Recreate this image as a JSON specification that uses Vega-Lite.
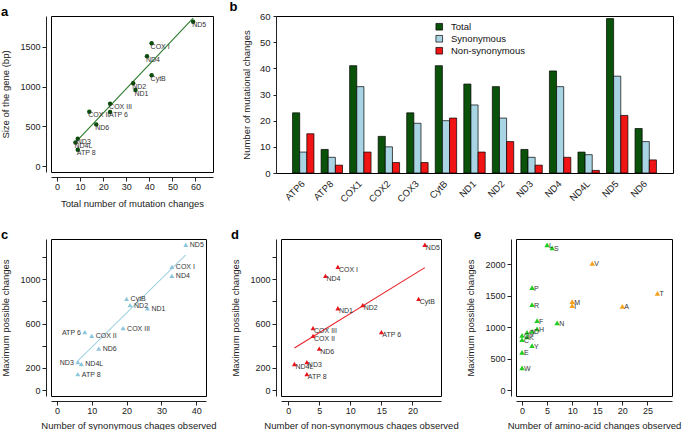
{
  "$schema": "https://vega.github.io/schema/vega-lite/v6.json",
  "background": "white",
  "padding": {"left": 0, "top": 0, "right": 2, "bottom": 0},
  "config": {
    "font": "Liberation Sans",
    "view": {"stroke": "black", "strokeWidth": 1},
    "axis": {"grid": false, "labelFontSize": 9, "titleFontSize": 9.5, "titleFontWeight": "normal", "labelColor": "#222", "titleColor": "#222", "domainColor": "#222", "tickColor": "#222", "tickSize": 4, "labelPadding": 2, "offset": 5, "labelFlush": false, "labelOverlap": false},
    "title": {"fontSize": 13, "fontWeight": "bold", "anchor": "start", "frame": "bounds", "offset": -3, "color": "black"},
    "text": {"font": "Liberation Sans"}
  },
  "datasets": {
    "genes": [
      {"gene": "ATP6", "label": "ATP 6", "Total": 23, "Synonymous": 8, "Non-synonymous": 15, "size": 681, "maxpos": 522},
      {"gene": "ATP8", "label": "ATP 8", "Total": 9, "Synonymous": 6, "Non-synonymous": 3, "size": 207, "maxpos": 144},
      {"gene": "COX1", "label": "COX I", "Total": 41, "Synonymous": 33, "Non-synonymous": 8, "size": 1542, "maxpos": 1110},
      {"gene": "COX2", "label": "COX II", "Total": 14, "Synonymous": 10, "Non-synonymous": 4, "size": 684, "maxpos": 489},
      {"gene": "COX3", "label": "COX III", "Total": 23, "Synonymous": 19, "Non-synonymous": 4, "size": 784, "maxpos": 558},
      {"gene": "CytB", "label": "CytB", "Total": 41, "Synonymous": 20, "Non-synonymous": 21, "size": 1141, "maxpos": 822},
      {"gene": "ND1", "label": "ND1", "Total": 34, "Synonymous": 26, "Non-synonymous": 8, "size": 956, "maxpos": 737},
      {"gene": "ND2", "label": "ND2", "Total": 33, "Synonymous": 21, "Non-synonymous": 12, "size": 1042, "maxpos": 765},
      {"gene": "ND3", "label": "ND3", "Total": 9, "Synonymous": 6, "Non-synonymous": 3, "size": 346, "maxpos": 252},
      {"gene": "ND4", "label": "ND4", "Total": 39, "Synonymous": 33, "Non-synonymous": 6, "size": 1378, "maxpos": 1029},
      {"gene": "ND4L", "label": "ND4L", "Total": 8, "Synonymous": 7, "Non-synonymous": 1, "size": 297, "maxpos": 236},
      {"gene": "ND5", "label": "ND5", "Total": 59, "Synonymous": 37, "Non-synonymous": 22, "size": 1812, "maxpos": 1308},
      {"gene": "ND6", "label": "ND6", "Total": 17, "Synonymous": 12, "Non-synonymous": 5, "size": 525, "maxpos": 374}
    ],
    "aa": [
      {"aa": "L", "changes": 5, "maxpos": 2306, "group": "few"},
      {"aa": "S", "changes": 6, "maxpos": 2259, "group": "few"},
      {"aa": "P", "changes": 2, "maxpos": 1625, "group": "few"},
      {"aa": "R", "changes": 2, "maxpos": 1356, "group": "few"},
      {"aa": "F", "changes": 3, "maxpos": 1103, "group": "few"},
      {"aa": "N", "changes": 7, "maxpos": 1066, "group": "few"},
      {"aa": "H", "changes": 3, "maxpos": 971, "group": "few"},
      {"aa": "D", "changes": 2, "maxpos": 934, "group": "few"},
      {"aa": "Q", "changes": 1, "maxpos": 918, "group": "few"},
      {"aa": "G", "changes": 0, "maxpos": 871, "group": "few"},
      {"aa": "K", "changes": 1, "maxpos": 844, "group": "few"},
      {"aa": "C", "changes": 0, "maxpos": 802, "group": "few"},
      {"aa": "Y", "changes": 2, "maxpos": 707, "group": "few"},
      {"aa": "E", "changes": 0, "maxpos": 601, "group": "few"},
      {"aa": "W", "changes": 0, "maxpos": 354, "group": "few"},
      {"aa": "V", "changes": 14, "maxpos": 2010, "group": "many"},
      {"aa": "M", "changes": 10, "maxpos": 1405, "group": "many"},
      {"aa": "I", "changes": 10, "maxpos": 1340, "group": "many"},
      {"aa": "A", "changes": 20, "maxpos": 1330, "group": "many"},
      {"aa": "T", "changes": 27, "maxpos": 1535, "group": "many"}
    ]
  },
  "spacing": 20,
  "vconcat": [
    {
      "bounds": "flush",
      "spacing": 63,
      "hconcat": [
        {
          "title": {"text": "a"},
          "width": 162,
          "height": 156,
          "data": {"name": "genes"},
          "encoding": {
            "x": {"field": "Total", "type": "quantitative", "scale": {"domain": [-2.6, 67.6], "nice": false, "zero": false}, "axis": {"values": [0, 10, 20, 30, 40, 50, 60], "title": "Total number of mutation changes", "labelPadding": 1, "titlePadding": 7}},
            "y": {"field": "size", "type": "quantitative", "scale": {"domain": [-72, 1884], "nice": false, "zero": false}, "axis": {"values": [0, 500, 1000, 1500], "format": "d", "title": "Size of the gene (bp)", "titlePadding": 9}}
          },
          "layer": [
            {"transform": [{"regression": "size", "on": "Total"}], "mark": {"type": "line", "color": "#2b7a2b", "strokeWidth": 1.1}},
            {"mark": {"type": "circle", "color": "#0c4d0c", "opacity": 1, "size": 20}},
            {"mark": {"type": "text", "align": "left", "baseline": "middle", "dx": -1, "dy": 3.5, "fontSize": 7, "color": "#333"}, "encoding": {"text": {"field": "label"}}},
            {"data": {"values": [{"t": "r² = 0.9367"}]}, "mark": {"type": "text", "align": "right", "baseline": "middle", "fontSize": 10, "color": "#222"}, "encoding": {"x": {"datum": 58.5, "type": "quantitative"}, "y": {"datum": 0, "type": "quantitative"}, "text": {"field": "t"}}}
          ]
        },
        {
          "title": {"text": "b", "dx": -12},
          "width": 397,
          "height": 157,
          "data": {"name": "genes"},
          "transform": [{"fold": ["Total", "Synonymous", "Non-synonymous"], "as": ["type", "count"]}],
          "mark": {"type": "bar", "stroke": "black", "strokeWidth": 0.7},
          "encoding": {
            "x": {"field": "gene", "type": "nominal", "sort": null, "scale": {"paddingInner": 0.25, "paddingOuter": 0.58}, "axis": {"title": null, "labelAngle": -45, "labelAlign": "right", "labelBaseline": "middle", "ticks": false, "domain": false, "labelPadding": 9, "offset": 0, "labelFontSize": 9.5}},
            "xOffset": {"field": "type", "type": "nominal", "sort": ["Total", "Synonymous", "Non-synonymous"], "scale": {"paddingInner": 0, "paddingOuter": 0}},
            "y": {"field": "count", "type": "quantitative", "scale": {"domain": [0, 60], "nice": false}, "axis": {"values": [0, 10, 20, 30, 40, 50, 60], "title": "Number of mutational changes", "offset": 0, "tickSize": 3, "labelPadding": 3, "titlePadding": 8, "labelFontSize": 9.5}},
            "fill": {"field": "type", "type": "nominal", "scale": {"domain": ["Total", "Synonymous", "Non-synonymous"], "range": ["#0a520a", "#a9d4e4", "#f01414"]}, "legend": {"title": null, "orient": "none", "legendX": 383.5, "legendY": 6, "symbolType": "square", "symbolSize": 44, "symbolStrokeColor": "black", "symbolStrokeWidth": 0.7, "labelFontSize": 9.5, "labelColor": "#111", "rowPadding": 1, "labelOffset": 7}}
          }
        }
      ]
    },
    {
      "bounds": "flush",
      "spacing": 75,
      "hconcat": [
        {
          "title": {"text": "c"},
          "width": 155,
          "height": 157,
          "data": {"name": "genes"},
          "encoding": {
            "x": {"field": "Synonymous", "type": "quantitative", "scale": {"domain": [-1.7, 42.8], "nice": false, "zero": false}, "axis": {"values": [0, 10, 20, 30, 40], "title": "Number of synonymous chages observed", "labelPadding": 1, "titlePadding": 5}},
            "y": {"field": "maxpos", "type": "quantitative", "scale": {"domain": [-52, 1360], "nice": false, "zero": false}, "axis": {"values": [0, 200, 400, 600, 800, 1000, 1200], "format": "d", "labelExpr": "indexof([0, 200, 600, 1000], datum.value) >= 0 ? datum.label : ''", "title": "Maximum possible changes", "titlePadding": 9}}
          },
          "layer": [
            {"transform": [{"regression": "maxpos", "on": "Synonymous"}], "mark": {"type": "line", "color": "#a3d3e3", "strokeWidth": 1.1}},
            {"mark": {"type": "point", "shape": "triangle-up", "filled": true, "color": "#8cc6da", "opacity": 1, "size": 25}},
            {"transform": [{"filter": "datum.label != 'ATP 6' && datum.label != 'ND3'"}], "mark": {"type": "text", "align": "left", "baseline": "middle", "dx": 4, "dy": 0.5, "fontSize": 7, "color": "#333"}, "encoding": {"text": {"field": "label"}}},
            {"transform": [{"filter": "datum.label == 'ATP 6' || datum.label == 'ND3'"}], "mark": {"type": "text", "align": "right", "baseline": "middle", "dx": -4, "dy": 0.5, "fontSize": 7, "color": "#333"}, "encoding": {"text": {"field": "label"}}},
            {"data": {"values": [{"t": "r² = 0.9147"}]}, "mark": {"type": "text", "align": "right", "baseline": "middle", "fontSize": 10, "color": "#222"}, "encoding": {"x": {"datum": 37.5, "type": "quantitative"}, "y": {"datum": 0, "type": "quantitative"}, "text": {"field": "t"}}}
          ]
        },
        {
          "title": {"text": "d"},
          "width": 160,
          "height": 157,
          "data": {"name": "genes"},
          "encoding": {
            "x": {"field": "Non-synonymous", "type": "quantitative", "scale": {"domain": [-1.16, 24.6], "nice": false, "zero": false}, "axis": {"values": [0, 5, 10, 15, 20], "title": "Number of non-synonymous chages observed", "labelPadding": 1, "titlePadding": 5}},
            "y": {"field": "maxpos", "type": "quantitative", "scale": {"domain": [-52, 1360], "nice": false, "zero": false}, "axis": {"values": [0, 200, 400, 600, 800, 1000, 1200], "format": "d", "labelExpr": "indexof([0, 200, 600, 1000], datum.value) >= 0 ? datum.label : ''", "title": "Maximum possible changes", "titlePadding": 9}}
          },
          "layer": [
            {"transform": [{"regression": "maxpos", "on": "Non-synonymous"}], "mark": {"type": "line", "color": "#e8242b", "strokeWidth": 1.1}},
            {"mark": {"type": "point", "shape": "triangle-up", "filled": true, "color": "#e8141b", "opacity": 1, "size": 25}},
            {"mark": {"type": "text", "align": "left", "baseline": "middle", "dx": 1, "dy": 3, "fontSize": 7, "color": "#333"}, "encoding": {"text": {"field": "label"}}},
            {"data": {"values": [{"t": "r² = 0.4324"}]}, "mark": {"type": "text", "align": "right", "baseline": "middle", "fontSize": 10, "color": "#222"}, "encoding": {"x": {"datum": 22, "type": "quantitative"}, "y": {"datum": 0, "type": "quantitative"}, "text": {"field": "t"}}}
          ]
        },
        {
          "title": {"text": "e", "dx": 8},
          "width": 156,
          "height": 157,
          "data": {"name": "aa"},
          "encoding": {
            "x": {"field": "changes", "type": "quantitative", "scale": {"domain": [-1.2, 29.9], "nice": false, "zero": false}, "axis": {"values": [0, 5, 10, 15, 20, 25, 30], "title": "Number of amino-acid changes observed", "labelPadding": 1, "titlePadding": 5}},
            "y": {"field": "maxpos", "type": "quantitative", "scale": {"domain": [-92, 2398], "nice": false, "zero": false}, "axis": {"values": [0, 500, 1000, 1500, 2000], "format": "d", "title": "Maximum possible changes", "titlePadding": 9}}
          },
          "layer": [
            {"mark": {"type": "point", "shape": "triangle-up", "filled": true, "opacity": 1, "size": 30}, "encoding": {"color": {"field": "group", "type": "nominal", "scale": {"domain": ["few", "many"], "range": ["#22cc22", "#f5a01e"]}, "legend": null}}},
            {"mark": {"type": "text", "align": "left", "baseline": "middle", "dx": 2, "dy": 1, "fontSize": 7, "color": "#333"}, "encoding": {"text": {"field": "aa"}}}
          ]
        }
      ]
    }
  ]
}
